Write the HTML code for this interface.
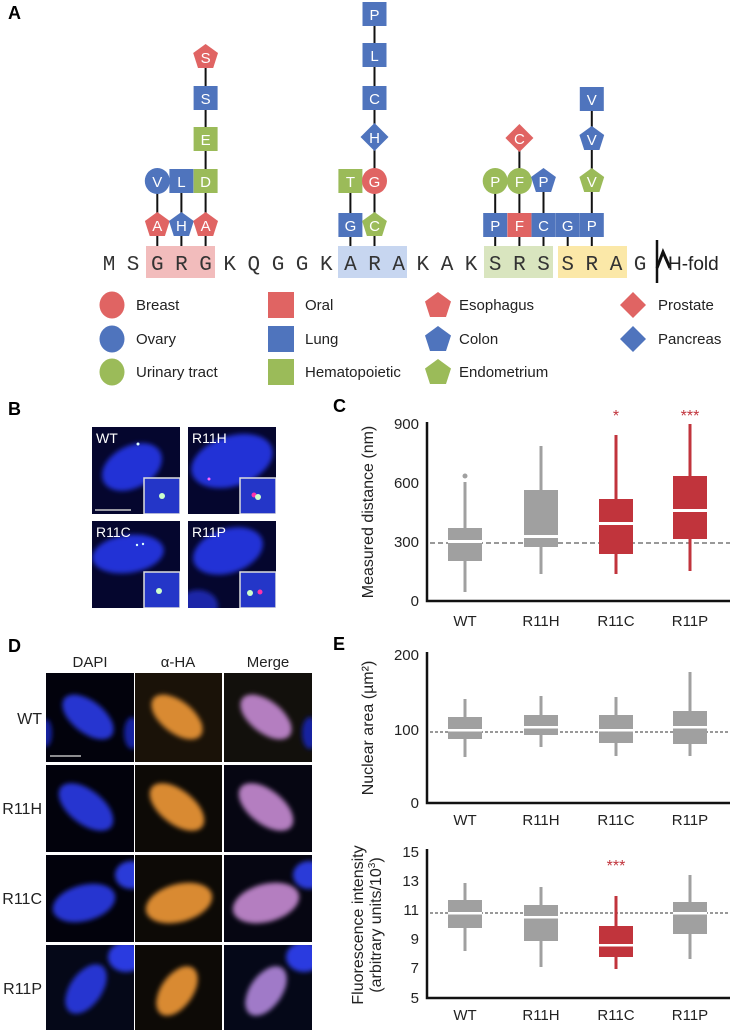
<!DOCTYPE html>
<html><head><meta charset="utf-8"><style>
html,body{margin:0;padding:0;background:#fff}
svg{display:block;font-family:"Liberation Sans",Arial,sans-serif}
</style></head><body>
<svg width="730" height="1033" viewBox="0 0 730 1033" xmlns="http://www.w3.org/2000/svg">
<defs>
<filter id="bl" x="-50%" y="-50%" width="200%" height="200%"><feGaussianBlur stdDeviation="2.5"/></filter>
<g id="pent"><polygon points="0,-13 12.4,-4 7.6,11 -7.6,11 -12.4,-4"/></g>
</defs>
<rect width="730" height="1033" fill="#fff"/>

<!-- Panel A -->
<text x="8" y="19" font-size="18" font-weight="bold">A</text>
<rect x="146" y="246" width="69" height="32" fill="#f2bcbc"/>
<rect x="338" y="246" width="69" height="32" fill="#c7d6f0"/>
<rect x="484" y="246" width="69" height="32" fill="#d9e5bf"/>
<rect x="558" y="246" width="69" height="32" fill="#fbe8a8"/>
<g stroke="#111" stroke-width="2">
<line x1="157.3" y1="181" x2="157.3" y2="246"/>
<line x1="181.4" y1="181" x2="181.4" y2="246"/>
<line x1="205.6" y1="57" x2="205.6" y2="246"/>
<line x1="350.4" y1="181" x2="350.4" y2="246"/>
<line x1="374.5" y1="14" x2="374.5" y2="246"/>
<line x1="495.2" y1="181" x2="495.2" y2="246"/>
<line x1="519.4" y1="138" x2="519.4" y2="246"/>
<line x1="543.5" y1="181" x2="543.5" y2="246"/>
<line x1="567.7" y1="225" x2="567.7" y2="246"/>
<line x1="591.8" y1="99" x2="591.8" y2="246"/>
</g>
<g>
<use href="#pent" x="157.3" y="225" fill="#e06463"/>
<ellipse cx="157.3" cy="181" rx="12.5" ry="13" fill="#4f74bd"/>
<use href="#pent" x="181.4" y="225" fill="#4f74bd"/>
<rect x="169.4" y="169" width="24" height="24" fill="#4f74bd"/>
<use href="#pent" x="205.6" y="225" fill="#e06463"/>
<rect x="193.6" y="169" width="24" height="24" fill="#9bbb59"/>
<rect x="193.6" y="127" width="24" height="24" fill="#9bbb59"/>
<rect x="193.6" y="86" width="24" height="24" fill="#4f74bd"/>
<use href="#pent" x="205.6" y="57" fill="#e06463"/>
<rect x="338.4" y="213" width="24" height="24" fill="#4f74bd"/>
<rect x="338.4" y="169" width="24" height="24" fill="#9bbb59"/>
<use href="#pent" x="374.5" y="225" fill="#9bbb59"/>
<ellipse cx="374.5" cy="181" rx="12.5" ry="13" fill="#e06463"/>
<polygon points="374.5,123 388.5,137 374.5,151 360.5,137" fill="#4f74bd"/>
<rect x="362.5" y="86" width="24" height="24" fill="#4f74bd"/>
<rect x="362.5" y="43" width="24" height="24" fill="#4f74bd"/>
<rect x="362.5" y="2" width="24" height="24" fill="#4f74bd"/>
<rect x="483.2" y="213" width="24" height="24" fill="#4f74bd"/>
<ellipse cx="495.2" cy="181" rx="12.5" ry="13" fill="#9bbb59"/>
<rect x="507.4" y="213" width="24" height="24" fill="#e06463"/>
<ellipse cx="519.4" cy="181" rx="12.5" ry="13" fill="#9bbb59"/>
<polygon points="519.4,124 533.4,138 519.4,152 505.4,138" fill="#e06463"/>
<rect x="531.5" y="213" width="24" height="24" fill="#4f74bd"/>
<use href="#pent" x="543.5" y="181" fill="#4f74bd"/>
<rect x="555.7" y="213" width="24" height="24" fill="#4f74bd"/>
<rect x="579.8" y="213" width="24" height="24" fill="#4f74bd"/>
<use href="#pent" x="591.8" y="181" fill="#9bbb59"/>
<use href="#pent" x="591.8" y="139" fill="#4f74bd"/>
<rect x="579.8" y="87" width="24" height="24" fill="#4f74bd"/>
</g>
<g fill="#fff" font-size="15" text-anchor="middle">
<text x="157.3" y="231">A</text><text x="157.3" y="187">V</text>
<text x="181.4" y="231">H</text><text x="181.4" y="187">L</text>
<text x="205.6" y="231">A</text><text x="205.6" y="187">D</text><text x="205.6" y="145">E</text><text x="205.6" y="104">S</text><text x="205.6" y="63">S</text>
<text x="350.4" y="231">G</text><text x="350.4" y="187">T</text>
<text x="374.5" y="231">C</text><text x="374.5" y="187">G</text><text x="374.5" y="143">H</text><text x="374.5" y="104">C</text><text x="374.5" y="61">L</text><text x="374.5" y="20">P</text>
<text x="495.2" y="231">P</text><text x="495.2" y="187">P</text>
<text x="519.4" y="231">F</text><text x="519.4" y="187">F</text><text x="519.4" y="144">C</text>
<text x="543.5" y="231">C</text><text x="543.5" y="187">P</text>
<text x="567.7" y="231">G</text>
<text x="591.8" y="231">P</text><text x="591.8" y="187">V</text><text x="591.8" y="145">V</text><text x="591.8" y="105">V</text>
</g>
<g font-family="Liberation Mono, monospace" font-size="21" fill="#333" text-anchor="middle">
<text x="109" y="270">M</text><text x="133.1" y="270">S</text><text x="157.3" y="270">G</text><text x="181.4" y="270">R</text><text x="205.6" y="270">G</text><text x="229.7" y="270">K</text><text x="253.8" y="270">Q</text><text x="278" y="270">G</text><text x="302.1" y="270">G</text><text x="326.3" y="270">K</text><text x="350.4" y="270">A</text><text x="374.5" y="270">R</text><text x="398.7" y="270">A</text><text x="422.8" y="270">K</text><text x="447" y="270">A</text><text x="471.1" y="270">K</text><text x="495.2" y="270">S</text><text x="519.4" y="270">R</text><text x="543.5" y="270">S</text><text x="567.7" y="270">S</text><text x="591.8" y="270">R</text><text x="616" y="270">A</text><text x="640.1" y="270">G</text>
</g>
<line x1="657" y1="240" x2="657" y2="283" stroke="#111" stroke-width="2.5"/>
<polyline points="657,268 663,252 670,268" fill="none" stroke="#111" stroke-width="3"/>
<text x="668" y="270" font-size="19" fill="#222">H-fold</text>

<!-- legend -->
<g>
<ellipse cx="112" cy="305" rx="12.5" ry="13.5" fill="#e06463"/>
<ellipse cx="112" cy="339" rx="12.5" ry="13.5" fill="#4f74bd"/>
<ellipse cx="112" cy="372" rx="12.5" ry="13.5" fill="#9bbb59"/>
<rect x="268" y="292" width="26" height="26" fill="#e06463"/>
<rect x="268" y="326" width="26" height="26" fill="#4f74bd"/>
<rect x="268" y="359" width="26" height="26" fill="#9bbb59"/>
<polygon points="438,292 451,301.5 446,317 430,317 425,301.5" fill="#e06463"/>
<polygon points="438,326 451,335.5 446,351 430,351 425,335.5" fill="#4f74bd"/>
<polygon points="438,359 451,368.5 446,384 430,384 425,368.5" fill="#9bbb59"/>
<polygon points="633,292 646,305 633,318 620,305" fill="#e06463"/>
<polygon points="633,326 646,339 633,352 620,339" fill="#4f74bd"/>
</g>
<g font-size="15" fill="#222">
<text x="136" y="310">Breast</text><text x="136" y="344">Ovary</text><text x="136" y="377">Urinary tract</text>
<text x="305" y="310">Oral</text><text x="305" y="344">Lung</text><text x="305" y="377">Hematopoietic</text>
<text x="459" y="310">Esophagus</text><text x="459" y="344">Colon</text><text x="459" y="377">Endometrium</text>
<text x="658" y="310">Prostate</text><text x="658" y="344">Pancreas</text>
</g>

<!-- Panel B -->
<text x="8" y="415" font-size="18" font-weight="bold">B</text>
<svg x="92" y="427" width="88" height="87"><rect width="88" height="87" fill="#05062e"/>
<ellipse cx="40" cy="40" rx="32" ry="21" transform="rotate(-28 40 40)" fill="#2233d6" filter="url(#bl)"/>
<circle cx="46" cy="17" r="1.5" fill="#dff"/>
<line x1="3" y1="83" x2="39" y2="83" stroke="#ccc" stroke-width="1.5"/>
<rect x="52" y="51" width="36" height="36" fill="#2436c8" stroke="#ddd" stroke-width="1.5"/><circle cx="70" cy="69" r="3" fill="#cfc"/>
<text x="4" y="16" fill="#fff" font-size="14">WT</text></svg>
<svg x="188" y="427" width="88" height="87"><rect width="88" height="87" fill="#05062e"/>
<ellipse cx="44" cy="34" rx="42" ry="25" transform="rotate(-18 44 34)" fill="#2233d6" filter="url(#bl)"/>
<circle cx="21" cy="52" r="1.5" fill="#f6f"/>
<rect x="52" y="51" width="36" height="36" fill="#2436c8" stroke="#ddd" stroke-width="1.5"/><circle cx="66" cy="68" r="2.5" fill="#f3a"/><circle cx="70" cy="70" r="3" fill="#cfc"/>
<text x="4" y="16" fill="#fff" font-size="14">R11H</text></svg>
<svg x="92" y="521" width="88" height="87"><rect width="88" height="87" fill="#05062e"/>
<ellipse cx="36" cy="33" rx="36" ry="19" transform="rotate(-8 36 33)" fill="#2233d6" filter="url(#bl)"/>
<circle cx="45" cy="24" r="1.2" fill="#dff"/><circle cx="51" cy="23" r="1.2" fill="#dff"/>
<rect x="52" y="51" width="36" height="36" fill="#2436c8" stroke="#ddd" stroke-width="1.5"/><circle cx="67" cy="70" r="3" fill="#cfc"/>
<text x="4" y="16" fill="#fff" font-size="14">R11C</text></svg>
<svg x="188" y="521" width="88" height="87"><rect width="88" height="87" fill="#05062e"/>
<ellipse cx="40" cy="30" rx="36" ry="22" transform="rotate(-18 40 30)" fill="#2233d6" filter="url(#bl)"/>
<ellipse cx="10" cy="85" rx="20" ry="16" fill="#1a28a8" filter="url(#bl)"/>
<rect x="52" y="51" width="36" height="36" fill="#2436c8" stroke="#ddd" stroke-width="1.5"/><circle cx="62" cy="72" r="3" fill="#cfc"/><circle cx="72" cy="71" r="2.5" fill="#f3a"/>
<text x="4" y="16" fill="#fff" font-size="14">R11P</text></svg>

<!-- Panel C -->
<text x="333" y="412" font-size="18" font-weight="bold">C</text>
<text transform="translate(373 512) rotate(-90)" text-anchor="middle" font-size="16" fill="#222">Measured distance (nm)</text>
<g font-size="15" fill="#222" text-anchor="end">
<text x="419" y="429">900</text><text x="419" y="488">600</text><text x="419" y="547">300</text><text x="419" y="606">0</text></g>
<line x1="430" y1="543" x2="730" y2="543" stroke="#999" stroke-width="2" stroke-dasharray="5 3"/>
<g fill="#a0a0a0">
<rect x="463.5" y="482" width="3" height="110"/><rect x="448" y="528" width="34" height="33"/><circle cx="465" cy="476" r="2.5"/>
<rect x="539.5" y="446" width="3" height="128"/><rect x="524" y="490" width="34" height="57"/>
</g>
<g fill="#c1343c">
<rect x="614.5" y="435" width="3" height="139"/><rect x="599" y="499" width="34" height="55"/>
<rect x="688.5" y="424" width="3" height="147"/><rect x="673" y="476" width="34" height="63"/>
</g>
<g fill="#fff"><rect x="448" y="540" width="34" height="3"/><rect x="524" y="535" width="34" height="3"/><rect x="599" y="522" width="34" height="3"/><rect x="673" y="509" width="34" height="3"/></g>
<path d="M427 422 V601 H730" fill="none" stroke="#111" stroke-width="2.5"/>
<g fill="#c1343c" font-size="16" text-anchor="middle"><text x="616" y="421">*</text><text x="690" y="421">***</text></g>
<g font-size="15" fill="#222" text-anchor="middle">
<text x="465" y="626">WT</text><text x="541" y="626">R11H</text><text x="616" y="626">R11C</text><text x="690" y="626">R11P</text></g>

<!-- Panel D -->
<text x="8" y="652" font-size="18" font-weight="bold">D</text>
<g font-size="15" fill="#222" text-anchor="middle"><text x="90" y="667">DAPI</text><text x="178" y="667">α-HA</text><text x="268" y="667">Merge</text></g>
<g font-size="16" fill="#222" text-anchor="end"><text x="42" y="724">WT</text><text x="42" y="814">R11H</text><text x="42" y="904">R11C</text><text x="42" y="994">R11P</text></g>
<g>
<svg x="46" y="673" width="88" height="89"><rect width="88" height="89" fill="#02020c"/><ellipse cx="42" cy="44" rx="30" ry="16" transform="rotate(38 42 44)" fill="#2535d0" filter="url(#bl)"/><ellipse cx="0" cy="60" rx="6" ry="14" fill="#1420a0" filter="url(#bl)"/><ellipse cx="86" cy="60" rx="8" ry="16" fill="#1420a0" filter="url(#bl)"/><line x1="4" y1="83" x2="35" y2="83" stroke="#bbb" stroke-width="1.5"/></svg>
<svg x="135" y="673" width="87" height="89"><rect width="87" height="89" fill="#1a1208"/><ellipse cx="42" cy="44" rx="30" ry="16" transform="rotate(38 42 44)" fill="#d98a30" filter="url(#bl)"/></svg>
<svg x="224" y="673" width="88" height="89"><rect width="88" height="89" fill="#12100c"/><ellipse cx="42" cy="44" rx="30" ry="16" transform="rotate(38 42 44)" fill="#b47ec0" filter="url(#bl)"/><ellipse cx="86" cy="60" rx="8" ry="16" fill="#1420a0" filter="url(#bl)"/></svg>
<svg x="46" y="765" width="88" height="87"><rect width="88" height="87" fill="#02020c"/><ellipse cx="40" cy="42" rx="32" ry="17" transform="rotate(38 40 42)" fill="#2535d0" filter="url(#bl)"/></svg>
<svg x="135" y="765" width="87" height="87"><rect width="87" height="87" fill="#0d0a06"/><ellipse cx="42" cy="42" rx="32" ry="17" transform="rotate(38 42 42)" fill="#d98a30" filter="url(#bl)"/></svg>
<svg x="224" y="765" width="88" height="87"><rect width="88" height="87" fill="#060612"/><ellipse cx="42" cy="42" rx="32" ry="17" transform="rotate(38 42 42)" fill="#b47ec0" filter="url(#bl)"/></svg>
<svg x="46" y="855" width="88" height="87"><rect width="88" height="87" fill="#02020c"/><ellipse cx="38" cy="48" rx="32" ry="18" transform="rotate(-15 38 48)" fill="#2535d0" filter="url(#bl)"/><ellipse cx="85" cy="20" rx="16" ry="14" fill="#2a3ad8" filter="url(#bl)"/></svg>
<svg x="135" y="855" width="87" height="87"><rect width="87" height="87" fill="#0d0a06"/><ellipse cx="44" cy="48" rx="34" ry="19" transform="rotate(-15 44 48)" fill="#d98a30" filter="url(#bl)"/></svg>
<svg x="224" y="855" width="88" height="87"><rect width="88" height="87" fill="#060612"/><ellipse cx="42" cy="48" rx="34" ry="19" transform="rotate(-15 42 48)" fill="#b47ec0" filter="url(#bl)"/><ellipse cx="85" cy="20" rx="16" ry="14" fill="#2a3ad8" filter="url(#bl)"/></svg>
<svg x="46" y="945" width="88" height="85"><rect width="88" height="85" fill="#050818"/><ellipse cx="40" cy="44" rx="28" ry="16" transform="rotate(-55 40 44)" fill="#2535d0" filter="url(#bl)"/><ellipse cx="80" cy="12" rx="18" ry="15" fill="#2a3ae0" filter="url(#bl)"/></svg>
<svg x="135" y="945" width="87" height="85"><rect width="87" height="85" fill="#0d0a06"/><ellipse cx="42" cy="46" rx="28" ry="16" transform="rotate(-55 42 46)" fill="#d98a30" filter="url(#bl)"/></svg>
<svg x="224" y="945" width="88" height="85"><rect width="88" height="85" fill="#050818"/><ellipse cx="42" cy="46" rx="28" ry="16" transform="rotate(-55 42 46)" fill="#a07ac8" filter="url(#bl)"/><ellipse cx="80" cy="12" rx="18" ry="15" fill="#2a3ae0" filter="url(#bl)"/></svg>
</g>

<!-- Panel E upper -->
<text x="333" y="650" font-size="18" font-weight="bold">E</text>
<text transform="translate(373 728) rotate(-90)" text-anchor="middle" font-size="16" fill="#222">Nuclear area (µm²)</text>
<g font-size="15" fill="#222" text-anchor="end"><text x="419" y="660">200</text><text x="419" y="735">100</text><text x="419" y="808">0</text></g>
<line x1="430" y1="732" x2="730" y2="732" stroke="#999" stroke-width="2" stroke-dasharray="3 2"/>
<g fill="#a0a0a0">
<rect x="463.5" y="699" width="3" height="58"/><rect x="448" y="717" width="34" height="22"/>
<rect x="539.5" y="696" width="3" height="51"/><rect x="524" y="715" width="34" height="20"/>
<rect x="614.5" y="697" width="3" height="59"/><rect x="599" y="715" width="34" height="28"/>
<rect x="688.5" y="672" width="3" height="84"/><rect x="673" y="711" width="34" height="33"/>
</g>
<g fill="#fff"><rect x="448" y="729" width="34" height="2.5"/><rect x="524" y="726" width="34" height="2.5"/><rect x="599" y="729" width="34" height="2.5"/><rect x="673" y="726" width="34" height="2.5"/></g>
<path d="M427 652 V803 H730" fill="none" stroke="#111" stroke-width="2.5"/>
<g font-size="15" fill="#222" text-anchor="middle"><text x="465" y="825">WT</text><text x="541" y="825">R11H</text><text x="616" y="825">R11C</text><text x="690" y="825">R11P</text></g>

<!-- Panel E lower -->
<text transform="translate(363 925) rotate(-90)" text-anchor="middle" font-size="16" fill="#222">Fluorescence intensity</text>
<text transform="translate(381 925) rotate(-90)" text-anchor="middle" font-size="16" fill="#222">(arbitrary units/10<tspan font-size="10" dy="-6">3</tspan><tspan dy="6">)</tspan></text>
<g font-size="15" fill="#222" text-anchor="end"><text x="419" y="857">15</text><text x="419" y="886">13</text><text x="419" y="915">11</text><text x="419" y="944">9</text><text x="419" y="973">7</text><text x="419" y="1003">5</text></g>
<line x1="430" y1="913" x2="730" y2="913" stroke="#999" stroke-width="2" stroke-dasharray="3 2"/>
<g fill="#a0a0a0">
<rect x="463.5" y="883" width="3" height="68"/><rect x="448" y="900" width="34" height="28"/>
<rect x="539.5" y="887" width="3" height="80"/><rect x="524" y="905" width="34" height="36"/>
<rect x="688.5" y="875" width="3" height="84"/><rect x="673" y="902" width="34" height="32"/>
</g>
<g fill="#c1343c"><rect x="614.5" y="896" width="3" height="73"/><rect x="599" y="926" width="34" height="31"/></g>
<g fill="#fff"><rect x="448" y="912" width="34" height="2.5"/><rect x="524" y="916" width="34" height="2.5"/><rect x="599" y="944" width="34" height="2.5"/><rect x="673" y="912" width="34" height="2.5"/></g>
<path d="M427 849 V998 H730" fill="none" stroke="#111" stroke-width="2.5"/>
<text x="616" y="871" fill="#c1343c" font-size="16" text-anchor="middle">***</text>
<g font-size="15" fill="#222" text-anchor="middle"><text x="465" y="1020">WT</text><text x="541" y="1020">R11H</text><text x="616" y="1020">R11C</text><text x="690" y="1020">R11P</text></g>
</svg>
</body></html>
